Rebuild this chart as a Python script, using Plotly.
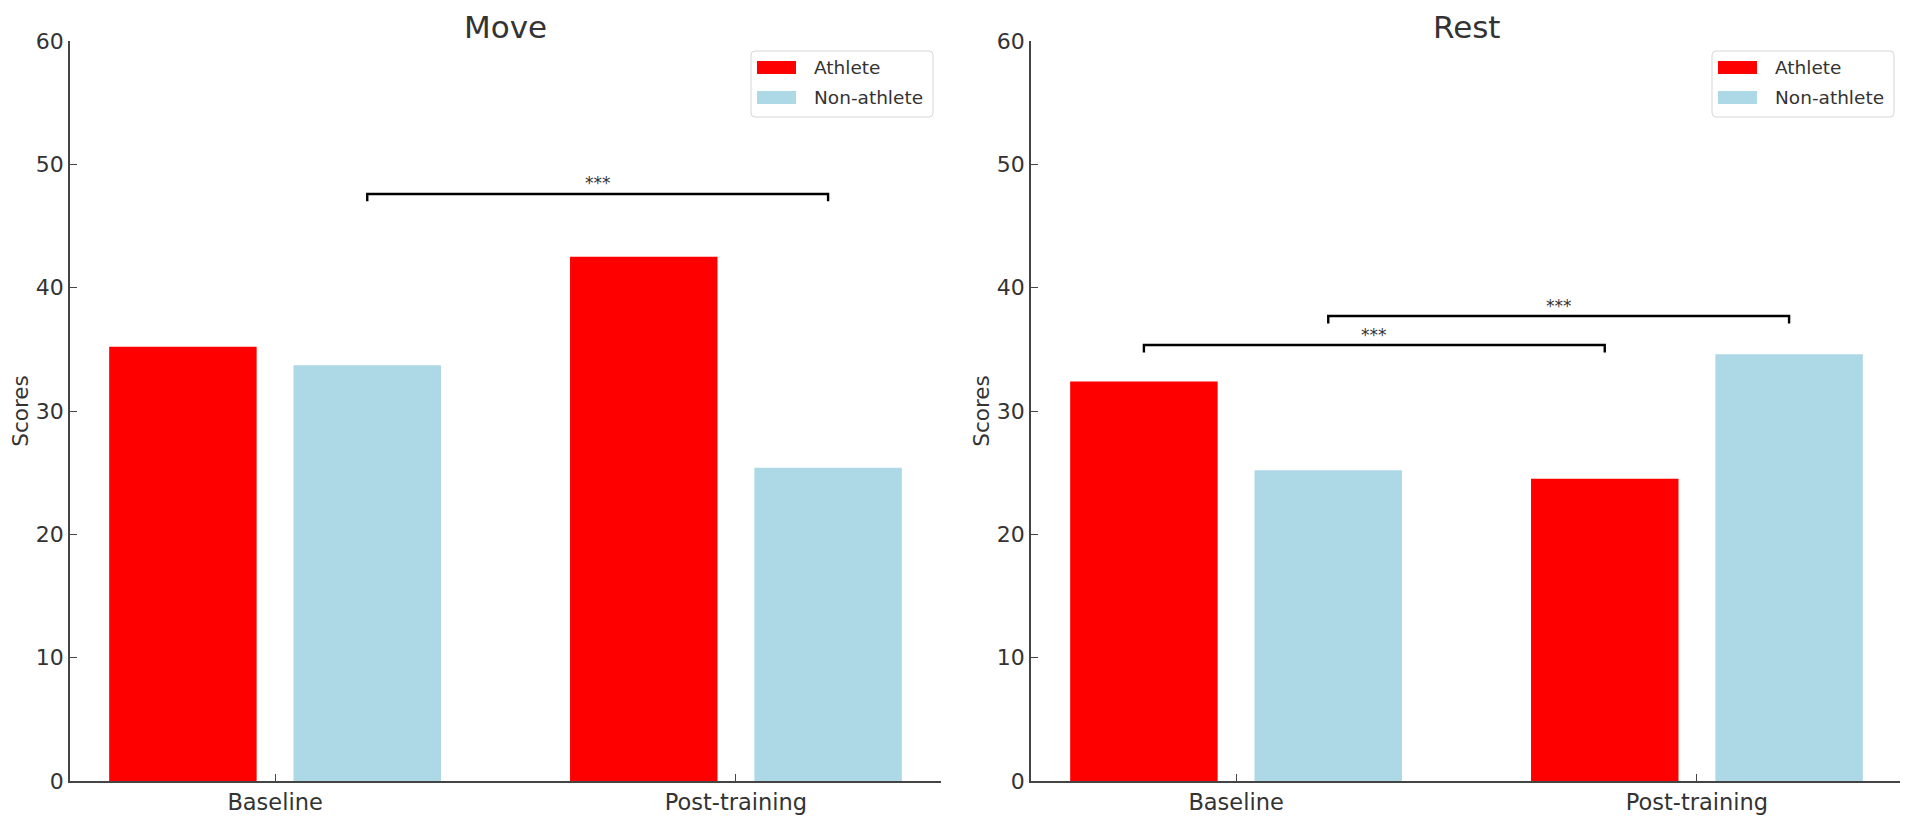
import plotly.graph_objects as go

# --- data -------------------------------------------------------------
categories = ["Baseline", "Post-training"]
groups = ["Athlete", "Non-athlete"]
panels = ["Move", "Rest"]

move_athlete = [35.2, 42.5]
move_non_athlete = [33.7, 25.4]
rest_athlete = [32.4, 24.5]
rest_non_athlete = [25.2, 34.6]

# significance brackets: (group, from category, group, to category, height, label)
move_sig = [("Non-athlete", "Baseline", "Non-athlete", "Post-training", 47.6, "***")]
rest_sig = [("Athlete", "Baseline", "Athlete", "Post-training", 35.35, "***"),
            ("Non-athlete", "Baseline", "Non-athlete", "Post-training", 37.7, "***")]

y_ticks = [0, 10, 20, 30, 40, 50, 60]

# --- style ------------------------------------------------------------
# the page body has an 8px margin, so the figure is drawn 8px in from the
# top-left corner; positions below are given in window pixels
PAGE = 8
FW, FH = 1908 - PAGE, 817 - PAGE
colors = {"Athlete": "#ff0000", "Non-athlete": "#add8e6"}
offsets = {"Athlete": -0.2, "Non-athlete": 0.2}
bar_w = 0.32
axis_col = "#444444"
txt_col = "#333333"
font = "DejaVu Sans"

# axes boxes in window pixels (left, right), shared top/bottom
ax_px = [(70, 941), (1031, 1902)]
top_px, bot_px = 41, 781


def px_x(p):
    return (p - PAGE) / FW


def px_y(p):
    return 1 - (p - PAGE) / FH


fig = go.Figure()

data = {
    "Move": {"Athlete": move_athlete, "Non-athlete": move_non_athlete},
    "Rest": {"Athlete": rest_athlete, "Non-athlete": rest_non_athlete},
}
sigs = {"Move": move_sig, "Rest": rest_sig}

shapes = []
annotations = []

for k, panel in enumerate(panels):
    xa = "x" if k == 0 else "x2"
    ya = "y" if k == 0 else "y2"
    for g in groups:
        fig.add_trace(go.Bar(
            x=[i + offsets[g] for i in range(len(categories))],
            y=data[panel][g],
            width=bar_w,
            name=g,
            marker=dict(color=colors[g], line=dict(width=0)),
            showlegend=False,
            xaxis=xa, yaxis=ya,
        ))

    # brackets
    drop = 0.6
    for g1, c1, g2, c2, h, lab in sigs[panel]:
        x1 = categories.index(c1) + offsets[g1]
        x2 = categories.index(c2) + offsets[g2]
        shapes.append(dict(
            type="path", xref=xa, yref=ya,
            path=f"M {x1},{h - drop} L {x1},{h} L {x2},{h} L {x2},{h - drop}",
            line=dict(color="black", width=2.4),
        ))
        annotations.append(dict(
            x=(x1 + x2) / 2, y=h + 0.85, xref=xa, yref=ya, text=lab,
            showarrow=False, xanchor="center", yanchor="middle",
            font=dict(family=font, size=17, color=txt_col),
        ))

    # title
    l, r = ax_px[k]
    annotations.append(dict(
        x=px_x((l + r) / 2), y=px_y(PAGE), xref="paper", yref="paper",
        text=panel, showarrow=False, xanchor="center", yanchor="top",
        borderpad=0,
        font=dict(family=font, size=31, color=txt_col),
    ))

    # legend (matplotlib-like box)
    bx1, bx0 = r - 8, r - 8 - 182
    by0, by1 = 51, 117
    rad = 4
    path = (f"M {px_x(bx0 + rad)},{px_y(by0)} L {px_x(bx1 - rad)},{px_y(by0)} "
            f"Q {px_x(bx1)},{px_y(by0)} {px_x(bx1)},{px_y(by0 + rad)} "
            f"L {px_x(bx1)},{px_y(by1 - rad)} "
            f"Q {px_x(bx1)},{px_y(by1)} {px_x(bx1 - rad)},{px_y(by1)} "
            f"L {px_x(bx0 + rad)},{px_y(by1)} "
            f"Q {px_x(bx0)},{px_y(by1)} {px_x(bx0)},{px_y(by1 - rad)} "
            f"L {px_x(bx0)},{px_y(by0 + rad)} "
            f"Q {px_x(bx0)},{px_y(by0)} {px_x(bx0 + rad)},{px_y(by0)} Z")
    shapes.append(dict(type="path", xref="paper", yref="paper", path=path,
                       line=dict(color="#d6d6d6", width=1),
                       fillcolor="rgba(255,255,255,0.8)", layer="above"))
    for j, g in enumerate(groups):
        cy = by0 + 16.5 + 30 * j
        shapes.append(dict(
            type="rect", xref="paper", yref="paper", layer="above",
            x0=px_x(bx0 + 6), x1=px_x(bx0 + 45),
            y0=px_y(cy - 6.5), y1=px_y(cy + 6.5),
            fillcolor=colors[g], line=dict(width=0),
        ))
        annotations.append(dict(
            x=px_x(bx0 + 61), y=px_y(cy), xref="paper", yref="paper",
            text=g, showarrow=False, xanchor="left", yanchor="middle",
            font=dict(family=font, size=18.5, color=txt_col),
        ))

x_common = dict(
    range=[-0.445, 1.445], automargin=False,
    tickmode="array", tickvals=list(range(len(categories))), ticktext=categories,
    showline=True, linecolor=axis_col, linewidth=1.6,
    ticks="inside", ticklen=7, tickwidth=1.4, tickcolor=axis_col,
    showgrid=False, zeroline=False,
    tickfont=dict(family=font, size=22.5, color=txt_col),
)
y_common = dict(
    range=[0, 60], tickmode="array", tickvals=y_ticks, automargin=False,
    showline=True, linecolor=axis_col, linewidth=1.6,
    ticks="inside", ticklen=7, tickwidth=1.4, tickcolor=axis_col,
    showgrid=False, zeroline=False,
    tickfont=dict(family=font, size=22, color=txt_col),
    ticklabelstandoff=0,
    title=dict(text="Scores", font=dict(family=font, size=21.5, color=txt_col), standoff=1),
)

fig.update_layout(
    width=FW, height=FH,
    margin=dict(l=0, r=0, t=0, b=0, autoexpand=False),
    paper_bgcolor="white", plot_bgcolor="white",
    barmode="overlay",
    xaxis=dict(x_common, domain=[px_x(ax_px[0][0]), px_x(ax_px[0][1])], anchor="y"),
    yaxis=dict(y_common, domain=[px_y(bot_px), px_y(top_px)], anchor="x"),
    xaxis2=dict(x_common, domain=[px_x(ax_px[1][0]), px_x(ax_px[1][1])], anchor="y2"),
    yaxis2=dict(y_common, domain=[px_y(bot_px), px_y(top_px)], anchor="x2"),
    shapes=shapes,
    annotations=annotations,
)

fig.write_html("out.html")
